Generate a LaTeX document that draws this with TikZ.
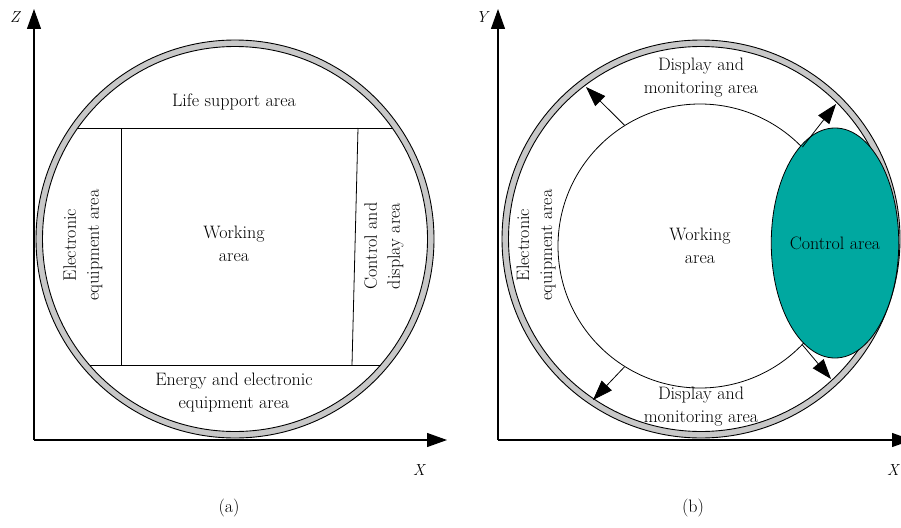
\documentclass[tikz,border=0pt]{standalone}
\usepackage{xcolor}
\usepackage{pgf,tikz}
\usetikzlibrary{arrows.meta,shapes,positioning,calc}
\definecolor{ringgrey}{RGB}{200,200,200}
\definecolor{ctrlteal}{RGB}{0,168,160}
\tikzset{
    lbl/.style={font=\fontsize{18}{23}\selectfont, align=center, inner sep=0pt},
    axlbl/.style={font=\fontsize{16}{16}\selectfont\itshape, inner sep=0pt},
    axisline/.style={line width=1.2pt, -{Triangle[length=20pt,width=14pt]}},
    outarrow/.style={line width=0.8pt, -{Triangle[length=20pt,width=14pt]}},
    ring/.style={shape=circle, draw=black, fill=ringgrey, line width=0.9pt, minimum size=398pt, inner sep=0pt},
    hull/.style={shape=circle, draw=black, fill=white, line width=0.9pt, minimum size=385pt, inner sep=0pt},
    wall/.style={draw=black, line width=0.8pt}
}
\begin{document}
\begin{tikzpicture}[x=1pt,y=-1pt]
    \useasboundingbox (0,0) rectangle (901,527);
    \coordinate (Oa) at (34,440);
    \coordinate (Za) at (34,9);
    \coordinate (Xa) at (447,440);
    \draw[axisline] (Oa) -- (Za);
    \draw[axisline] (Oa) -- (Xa);
    \node[axlbl] (zlab) at (15,17) {Z};
    \node[axlbl] (xlabA) at (419,470) {X};
    \node[ring] (ringA) at (235,239) {};
    \node[hull] (hullA) at (235,239) {};
    \coordinate (tl) at (77,128);
    \coordinate (tr) at (393,128);
    \coordinate (bl) at (90,365);
    \coordinate (br) at (381,365);
    \coordinate (vl1) at (121,128);
    \coordinate (vl2) at (121,365);
    \coordinate (vr1) at (358,128);
    \coordinate (vr2) at (352,365);
    \path [wall](tl) edge node {} (tr);
    \path [wall](bl) edge node {} (br);
    \path [wall](vl1) edge node {} (vl2);
    \path [wall](vr1) edge node {} (vr2);
    \node[lbl] (life) at (234,102) {Life support area};
    \node[lbl] (workA) at (234,244) {Working\\area};
    \node[lbl, rotate=90] (elecA) at (83,245) {Electronic\\equipment area};
    \node[lbl, rotate=90] (ctrlA) at (384,246) {Control and\\display area};
    \node[lbl] (energy) at (234,393) {Energy and electronic\\equipment area};
    \node[lbl] (capA) at (229,508) {(a)};

    \coordinate (Ob) at (498,440);
    \coordinate (Yb) at (498,9);
    \coordinate (Xb) at (912,440);
    \draw[axisline] (Ob) -- (Yb);
    \draw[axisline] (Ob) -- (Xb);
    \node[axlbl] (ylab) at (482,17) {Y};
    \node[axlbl] (xlabB) at (893,470) {X};
    \node[ring] (ringB) at (701,239) {};
    \node[hull] (hullB) at (701,239) {};
    \node[lbl, shape=circle, draw=black, fill=white, line width=0.8pt, minimum size=284pt] (workB) at (700,246) {Working\\area};
    \node[lbl, shape=ellipse, draw=black, fill=ctrlteal, line width=0.8pt, minimum width=116pt, minimum height=230pt] (ctrlB) at (835,243) {Control area};
    \coordinate (pUL) at (586,87);
    \coordinate (pUR) at (836,104);
    \coordinate (pLL) at (593,400);
    \coordinate (pLR) at (831,379);
    \draw[outarrow] (workB.122) -- (pUL);
    \draw[outarrow] (workB.44) -- (pUR);
    \draw[outarrow] (workB.238) -- (pLL);
    \draw[outarrow] (workB.-44) -- (pLR);
    \node[lbl] (dispTop) at (701,78) {Display and\\monitoring area};
    \node[lbl] (dispBot) at (701,407) {Display and\\monitoring area};
    \node[lbl, rotate=90] (elecB) at (536,245) {Electronic\\equipment area};
    \node[lbl] (capB) at (693,508) {(b)};
\end{tikzpicture}
\end{document}
